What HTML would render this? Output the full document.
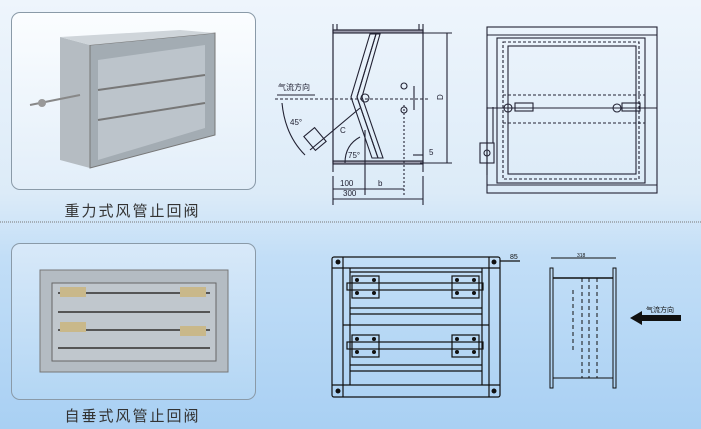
<!DOCTYPE html>
<html><head><meta charset="utf-8"><style>
html,body{margin:0;padding:0}
body{width:701px;height:429px;overflow:hidden;background:linear-gradient(#eef5fc 0%,#dcebf8 45%,#c2def7 60%,#a9d0f3 100%);position:relative;font-family:"Liberation Sans","Noto Sans CJK SC",sans-serif}
.box{position:absolute;border:1px solid #8a9aa8;border-radius:9px}
.lbl{position:absolute;font-size:15px;color:#333;letter-spacing:2px;width:245px;text-align:center}
</style></head><body>
<div class="box" style="left:11px;top:12px;width:243px;height:176px;background:linear-gradient(#fbfdff,#e2eef9)"></div>
<div class="box" style="left:11px;top:243px;width:243px;height:155px;background:linear-gradient(#d8e9f9,#b3d6f4)"></div>
<div class="lbl" style="left:10px;top:200px">重力式风管止回阀</div>
<div class="lbl" style="left:10px;top:405px">自垂式风管止回阀</div>
<svg width="701" height="429" style="position:absolute;left:0;top:0" font-family="Liberation Sans, Noto Sans CJK SC, sans-serif">
<line x1="0" y1="222" x2="701" y2="222" stroke="#777" stroke-dasharray="1,1"/>
<!-- top photo -->
<polygon points="60,37 90,45 90,168 60,160" fill="#b5bcc2"/>
<polygon points="90,45 215,33 215,135 90,168" fill="#a3acb3" stroke="#777"/>
<polygon points="60,37 180,30 215,33 90,45" fill="#cfd5da"/>
<polygon points="98,60 205,45 205,128 98,160" fill="#bcc4cb"/>
<line x1="98" y1="90" x2="205" y2="75" stroke="#777" stroke-width="2"/>
<line x1="98" y1="120" x2="205" y2="103" stroke="#777" stroke-width="2"/>
<line x1="30" y1="105" x2="80" y2="95" stroke="#888" stroke-width="2"/>
<circle cx="42" cy="103" r="4" fill="#999"/>
<!-- bottom photo -->
<rect x="40" y="270" width="188" height="102" fill="#b4bcc3" stroke="#777"/>
<rect x="52" y="283" width="164" height="78" fill="#c0c7cd" stroke="#666"/>
<g stroke="#555" stroke-width="2"><line x1="58" y1="293" x2="210" y2="293"/><line x1="58" y1="312" x2="210" y2="312"/><line x1="58" y1="330" x2="210" y2="330"/><line x1="58" y1="348" x2="210" y2="348"/></g>
<g fill="#c9b88a"><rect x="60" y="287" width="26" height="10"/><rect x="180" y="287" width="26" height="10"/><rect x="60" y="322" width="26" height="10"/><rect x="180" y="326" width="26" height="10"/></g>
<!-- side section drawing -->
<g stroke="#223" fill="none" stroke-width="1.1">
<rect x="333" y="30" width="90" height="133"/>
<rect x="333" y="30" width="90" height="3" fill="#99a"/>
<rect x="333" y="161" width="90" height="3" fill="#99a"/>
<line x1="333" y1="24" x2="333" y2="172"/><line x1="423" y1="24" x2="423" y2="172"/>
<line x1="337" y1="24" x2="337" y2="30"/><line x1="419" y1="24" x2="419" y2="30"/>
<polygon points="370,34 376,34 357,97 378,158 372,158 351,97" />
<polygon points="376,34 380,34 362,97 383,158 378,158 357,97"/>
<circle cx="365" cy="98" r="4"/>
<line x1="275" y1="99" x2="430" y2="99" stroke-dasharray="3,2"/>
<line x1="333" y1="176" x2="333" y2="205"/><line x1="423" y1="176" x2="423" y2="205"/>
<line x1="365" y1="130" x2="365" y2="195"/><line x1="404" y1="105" x2="404" y2="195" stroke-dasharray="2,2"/>
<line x1="333" y1="189" x2="404" y2="189"/><line x1="333" y1="199" x2="423" y2="199"/>
<line x1="447" y1="33" x2="447" y2="163"/><line x1="420" y1="33" x2="452" y2="33"/><line x1="420" y1="163" x2="452" y2="163"/>
<line x1="414" y1="86" x2="414" y2="110"/>
<circle cx="404" cy="86" r="3"/><circle cx="404" cy="110" r="3"/>
<line x1="413" y1="155" x2="423" y2="155"/>
<path d="M282,103 Q285,135 305,155"/>
<path d="M345,163 Q345,145 360,137"/>
<line x1="310" y1="150" x2="360" y2="108"/>
<rect x="308" y="130" width="14" height="18" transform="rotate(-40 315 139)"/>
<line x1="277" y1="95" x2="315" y2="95"/>
</g>
<g font-size="8" fill="#223"><text x="278" y="90">气流方向</text><text x="290" y="125">45°</text><text x="348" y="158">75°</text><text x="340" y="186">100</text><text x="378" y="186">b</text><text x="343" y="196">300</text><text x="340" y="133">C</text><text x="429" y="155">5</text><text x="436" y="99" transform="rotate(-90 440 96)">D</text></g>
<!-- front drawing top right -->
<g stroke="#223" fill="none" stroke-width="1.1">
<rect x="487" y="27" width="170" height="166"/>
<line x1="487" y1="35" x2="657" y2="35"/><line x1="487" y1="185" x2="657" y2="185"/>
<rect x="497" y="38" width="148" height="145"/>
<rect x="503" y="42" width="136" height="137" stroke-dasharray="3,2"/>
<rect x="508" y="46" width="128" height="128"/>
<line x1="503" y1="95" x2="645" y2="95" stroke-dasharray="3,2"/>
<line x1="503" y1="123" x2="645" y2="123" stroke-dasharray="3,2"/>
<line x1="487" y1="108" x2="657" y2="108"/>
<circle cx="508" cy="108" r="4"/><circle cx="617" cy="108" r="4"/>
<rect x="515" y="103" width="18" height="8"/><rect x="622" y="103" width="18" height="8"/>
<rect x="480" y="143" width="14" height="20"/><line x1="487" y1="107" x2="487" y2="175"/><line x1="493" y1="107" x2="493" y2="143"/>
<circle cx="487" cy="153" r="3"/>
</g>
<!-- bottom front drawing -->
<g stroke="#111" fill="none" stroke-width="1.2">
<rect x="332" y="257" width="168" height="140" rx="2"/>
<line x1="332" y1="268" x2="500" y2="268"/><line x1="332" y1="385" x2="500" y2="385"/>
<line x1="343" y1="257" x2="343" y2="397"/><line x1="489" y1="257" x2="489" y2="397"/>
<line x1="350" y1="268" x2="350" y2="385"/><line x1="482" y1="268" x2="482" y2="385"/>
<line x1="350" y1="272" x2="482" y2="272"/>
<line x1="350" y1="308" x2="482" y2="308"/><line x1="350" y1="314" x2="482" y2="314"/>
<line x1="343" y1="325" x2="489" y2="325"/>
<line x1="350" y1="365" x2="482" y2="365"/><line x1="350" y1="371" x2="482" y2="371"/>
<rect x="347" y="283" width="136" height="7"/><rect x="347" y="342" width="136" height="7"/>
<rect x="352" y="276" width="27" height="22"/><rect x="452" y="276" width="27" height="22"/>
<rect x="352" y="335" width="27" height="22"/><rect x="452" y="335" width="27" height="22"/>
<line x1="500" y1="261" x2="520" y2="261"/>
</g>
<g fill="#111"><circle cx="338" cy="262" r="2.5"/><circle cx="494" cy="262" r="2.5"/><circle cx="338" cy="391" r="2.5"/><circle cx="494" cy="391" r="2.5"/>
<circle cx="357" cy="280" r="2"/><circle cx="374" cy="280" r="2"/><circle cx="357" cy="293" r="2"/><circle cx="374" cy="293" r="2"/>
<circle cx="457" cy="280" r="2"/><circle cx="474" cy="280" r="2"/><circle cx="457" cy="293" r="2"/><circle cx="474" cy="293" r="2"/>
<circle cx="357" cy="339" r="2"/><circle cx="374" cy="339" r="2"/><circle cx="357" cy="352" r="2"/><circle cx="374" cy="352" r="2"/>
<circle cx="457" cy="339" r="2"/><circle cx="474" cy="339" r="2"/><circle cx="457" cy="352" r="2"/><circle cx="474" cy="352" r="2"/></g>
<text x="510" y="259" font-size="7" fill="#111">85</text>
<!-- bottom side drawing -->
<g stroke="#111" fill="none">
<rect x="550" y="268" width="3" height="120"/><rect x="613" y="268" width="3" height="120"/>
<line x1="551" y1="258" x2="616" y2="258"/>
<line x1="553" y1="278" x2="613" y2="278" stroke-width="1.5"/><line x1="553" y1="378" x2="613" y2="378"/>
<g stroke-dasharray="4,3"><line x1="582" y1="278" x2="582" y2="378"/><line x1="589" y1="278" x2="589" y2="378"/><line x1="597" y1="278" x2="597" y2="378"/><line x1="573" y1="290" x2="573" y2="350"/></g>
</g>
<text x="577" y="257" font-size="5" fill="#111">318</text>
<polygon points="630,318 642,311 642,315 681,315 681,321 642,321 642,325" fill="#111"/>
<text x="646" y="312" font-size="7" fill="#111">气流方向</text>
</svg>
</body></html>
